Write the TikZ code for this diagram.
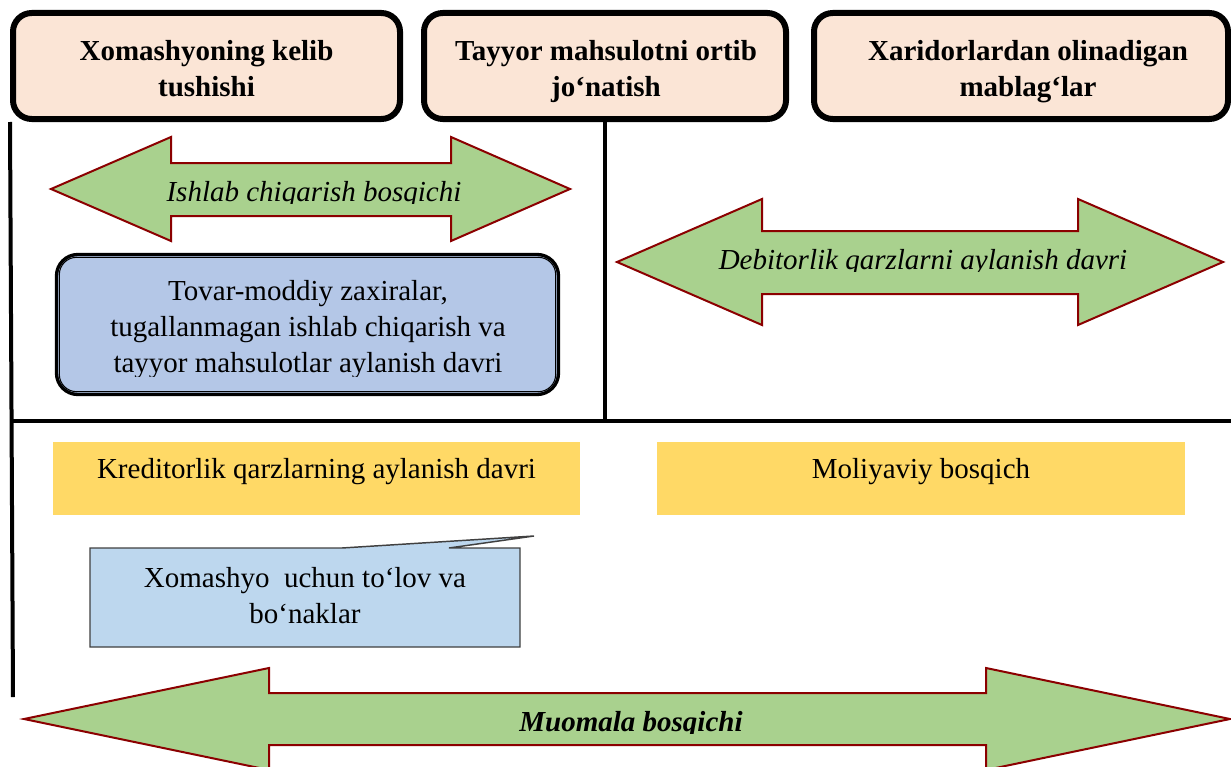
\documentclass[tikz,border=0pt]{standalone}
\usepackage{fontspec}
\setmainfont{Liberation Serif}
\definecolor{hdrfill}{HTML}{FBE5D6}
\definecolor{arrfill}{HTML}{A9D18E}
\definecolor{arrline}{HTML}{8B0000}
\definecolor{bluefill}{HTML}{B4C7E7}
\definecolor{callfill}{HTML}{BDD7EE}
\definecolor{yelfill}{HTML}{FFD966}
\definecolor{callline}{HTML}{404040}
\begin{document}
\begin{tikzpicture}[x=0.75pt,y=-0.75pt,
  txt/.style={font=\fontsize{21.75pt}{27pt}\selectfont, inner sep=0pt, align=center},
  hdrtxt/.style={txt, font=\fontsize{21.75pt}{27pt}\selectfont\bfseries},
  hdrbox/.style={draw=black, line width=4.5pt, fill=hdrfill, rounded corners=14pt, inner sep=0pt, minimum height=106*0.75pt},
  bigarrow/.style={draw=arrline, line width=1.5pt, fill=arrfill, line join=miter},
  rulerline/.style={line width=3pt, draw=black},
  ybox/.style={txt, fill=yelfill, minimum height=73*0.75pt, text height=15pt, text depth=15.75pt},
  callbox/.style={draw=callline, line width=1.1pt, fill=callfill, line join=miter}
]
\useasboundingbox (0,0) rectangle (1231,767);
\clip (0,0) rectangle (1231,767);

% header boxes
\node[hdrbox, minimum width=387*0.75pt] (hb1) at (206.5,66) {};
\node[hdrbox, minimum width=362*0.75pt] (hb2) at (605,66) {};
\node[hdrbox, minimum width=414*0.75pt] (hb3) at (1021,66) {};
\node[hdrtxt] (ht1) at (206.5,71.8) {\strut Xomashyoning kelib\\\strut tushishi};
\node[hdrtxt] (ht2) at (606,71.8) {\strut Tayyor mahsulotni ortib\\\strut jo‘natish};
\node[hdrtxt] (ht3) at (1028,71.8) {\strut Xaridorlardan olinadigan\\\strut mablag‘lar};

% frame lines
\coordinate (lbot) at (13,697);
\coordinate (mbot) at (605,421);
\coordinate (rend) at (1231,421);
\draw[rulerline] (hb1.south west) -- (lbot);
\draw[rulerline] (hb2.south) -- (mbot);
\draw[rulerline] (13,421) -- (rend);

% production arrow
\path[bigarrow] (51,189) -- (171,137) -- (171,163) -- (451,163) -- (451,137) -- (570,189)
  -- (451,241) -- (451,216) -- (171,216) -- (171,241) -- cycle;
\begin{scope}
\clip (0,100) rectangle (1231,203);
\node[txt, anchor=base, font=\fontsize{21.75pt}{27pt}\selectfont\itshape] (a1t) at (314,201) {Ishlab chiqarish bosqichi};
\end{scope}

% receivables arrow
\path[bigarrow] (617,262) -- (762,199) -- (762,231) -- (1078,231) -- (1078,199) -- (1223,262)
  -- (1078,325) -- (1078,294) -- (762,294) -- (762,325) -- cycle;
\begin{scope}
\clip (0,200) rectangle (1231,271);
\node[txt, anchor=base, font=\fontsize{21.75pt}{27pt}\selectfont\itshape] (a2t) at (923,269) {Debitorlik qarzlarni aylanish davri};
\end{scope}

% inventory box
\node[draw=black, line width=2.5pt, fill=bluefill, rounded corners=16pt, inner sep=0pt,
  minimum width=502*0.75pt, minimum height=140*0.75pt] (inv) at (307.5,324.5) {};
\draw[line width=0.75pt, rounded corners=13pt] ([shift={(4.5,-4.5)}]inv.south west) rectangle ([shift={(-4.5,4.5)}]inv.north east);
\begin{scope}
\clip (0,250) rectangle (1231,376);
\node[txt] (invt) at (308,329.7) {\strut Tovar-moddiy zaxiralar,\\\strut tugallanmagan ishlab chiqarish va\\\strut tayyor mahsulotlar aylanish davri};
\end{scope}

% yellow boxes
\node[ybox, minimum width=527*0.75pt] (kred) at (316.5,478.5) {Kreditorlik qarzlarning aylanish davri};
\node[ybox, minimum width=528*0.75pt] (moli) at (921,478.5) {Moliyaviy bosqich};

% callout
\path[callbox] (90,548) -- (342,548) -- (534,536) -- (449,548) -- (520,548) -- (520,647) -- (90,647) -- cycle;
\node[txt] (callt) at (305,598.4) {\strut Xomashyo\ \ uchun to‘lov va\\\strut bo‘naklar};

% circulation arrow
\path[bigarrow] (24,719) -- (269,668) -- (269,693) -- (986,693) -- (986,668) -- (1230,719)
  -- (986,770) -- (986,745) -- (269,745) -- (269,770) -- cycle;
\begin{scope}
\clip (0,690) rectangle (1231,733);
\node[txt, anchor=base, font=\fontsize{21.75pt}{27pt}\selectfont\bfseries\itshape] (a3t) at (631,731) {Muomala bosqichi};
\end{scope}
\end{tikzpicture}
\end{document}
